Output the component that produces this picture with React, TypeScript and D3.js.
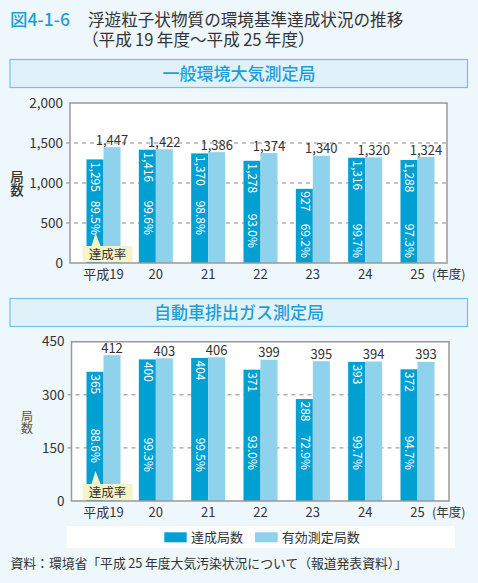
import React from "react";
import * as d3 from "d3";

const years = ["平成19", "20", "21", "22", "23", "24", "25"];
const ambientAchieved = [1295, 1416, 1370, 1278, 927, 1316, 1288];
const ambientValid = [1447, 1422, 1386, 1374, 1340, 1320, 1324];
const ambientRate = ["89.5%", "99.6%", "98.8%", "93.0%", "69.2%", "99.7%", "97.3%"];
const roadsideAchieved = [365, 400, 404, 371, 288, 393, 372];
const roadsideValid = [412, 403, 406, 399, 395, 394, 393];
const roadsideRate = ["88.6%", "99.3%", "99.5%", "93.0%", "72.9%", "99.7%", "94.7%"];
const ambientTicks = [0, 500, 1000, 1500, 2000];
const roadsideTicks = [0, 150, 300, 450];

const W = 478;
const H = 583;
const DARK = "#00a0d3";
const LIGHT = "#8ed2ec";
const BLUE = "#1d9fd6";
const TEXT = "#333";
const FONT = "'Noto Sans CJK JP', 'Noto Sans', sans-serif";
const TS = "\u2009";

const fmt = d3.format(",");

type PanelProps = {
  left: number;
  right: number;
  top: number;
  bottom: number;
  max: number;
  ticks: number[];
  achieved: number[];
  valid: number[];
  rate: string[];
  pctGaps: number[];
  ylabX: number;
  ylabY: number;
  ylabSize: number;
  ylabWeight: number;
  ylabColor: string;
  ylabSpacing: number;
};

function Panel(p: PanelProps) {
  const y = d3.scaleLinear().domain([0, p.max]).range([p.bottom, p.top]);
  const x = d3.scalePoint<string>().domain(years).range([103.5, 417.5]);
  const bw = 17;
  return (
    <g>
      <rect x={p.left} y={p.top} width={p.right - p.left} height={p.bottom - p.top} fill="#fff" />
      {p.ticks.slice(1, -1).map((t) => (
        <line
          key={"g" + t}
          x1={p.left - 4}
          x2={p.right}
          y1={y(t)}
          y2={y(t)}
          stroke="#888"
          strokeWidth={1}
          strokeDasharray="4,4"
        />
      ))}
      {p.ticks.map((t) => (
        <text
          key={"t" + t}
          x={p.left - 7}
          y={y(t)}
          dy="0.35em"
          textAnchor="end"
          fontSize={13.5}
          fill={TEXT}
        >
          {fmt(t)}
        </text>
      ))}
      {years.map((yr, i) => {
        const cx = x(yr) as number;
        const a = p.achieved[i];
        const v = p.valid[i];
        return (
          <g key={yr}>
            <rect x={cx - bw} y={y(a)} width={bw} height={p.bottom - y(a)} fill={DARK} />
            <rect x={cx} y={y(v)} width={bw} height={p.bottom - y(v)} fill={LIGHT} />
            <text x={cx + bw / 2} y={y(v) - 2.5} textAnchor="middle" fontSize={13} fill={TEXT}>
              {fmt(v)}
            </text>
            <text
              transform={`translate(${cx - bw / 2 + 0.5},${y(a) + 2.5}) rotate(90)`}
              dy="0.35em"
              textAnchor="start"
              fontSize={12}
              fill="#fff"
            >
              {fmt(a)}
            </text>
            <text
              transform={`translate(${cx - bw / 2 + 0.5},${p.bottom - p.pctGaps[i]}) rotate(90)`}
              dy="0.35em"
              textAnchor="end"
              fontSize={12}
              fill="#fff"
            >
              {p.rate[i]}
            </text>
            <text x={cx} y={p.bottom + 15.5} textAnchor="middle" fontSize={13} fill={TEXT}>
              {yr}
            </text>
          </g>
        );
      })}
      {(() => {
        const cx = (x(years[0]) as number) - bw / 2 + 0.5;
        const by = p.bottom - 17;
        return (
          <g>
            <path d={`M${cx - 4},${by} L${cx},${by - 13} L${cx + 5},${by} Z`} fill="#f6f3c8" />
            <rect x={82.5} y={by} width={50} height={16} fill="#f6f3c8" />
            <text x={107.5} y={by + 8} dy="0.36em" textAnchor="middle" fontSize={12.5} fill={TEXT}>
              達成率
            </text>
          </g>
        );
      })()}
      <path
        d={`M${p.left},${p.bottom} V${p.top} H${p.right} V${p.bottom} Z`}
        fill="none"
        stroke="#999"
        strokeWidth={1.5}
      />
      <text x={432} y={p.bottom + 15.5} fontSize={12.5} fill={TEXT}>
        (年度)
      </text>
      <text
        x={p.ylabX}
        y={p.ylabY}
        textAnchor="middle"
        fontSize={p.ylabSize}
        fontWeight={p.ylabWeight}
        fill={p.ylabColor}
        style={{ writingMode: "vertical-rl", letterSpacing: p.ylabSpacing - p.ylabSize }}
      >
        局数
      </text>
    </g>
  );
}

function Header({ y, text }: { y: number; text: string }) {
  return (
    <g>
      <rect x={10} y={y} width={457.5} height={28} fill="#e1f1fa" stroke="#6ec4e6" strokeWidth={1.2} />
      <text x={239} y={y + 14} dy="0.36em" textAnchor="middle" fontSize={17} fontWeight={500} fill={BLUE}>
        {text}
      </text>
    </g>
  );
}

export default function App() {
  return (
    <div style={{ position: "absolute", left: 0, top: 0 }}>
      <svg width={W} height={H} style={{ display: "block", fontFamily: FONT }}>
        <rect x={0} y={0} width={W} height={H} fill="#eef7fc" />
        <text x={10} y={25.5} fontSize={17.5} fontWeight={500} fill={BLUE}>
          図4-1-6
        </text>
        <text fontSize={16.6} fill={TEXT}>
          <tspan x={88} y={25.5}>浮遊粒子状物質の環境基準達成状況の推移</tspan>
          <tspan x={82} y={46}>{`（平成${TS}19${TS}年度～平成${TS}25${TS}年度）`}</tspan>
        </text>
        <Header y={59.5} text="一般環境大気測定局" />
        <Panel
          left={70}
          right={447}
          top={103}
          bottom={263}
          max={2000}
          ticks={ambientTicks}
          achieved={ambientAchieved}
          valid={ambientValid}
          rate={ambientRate}
          pctGaps={[28, 28, 28, 15, 5, 5, 5]}
          ylabX={17}
          ylabY={183.5}
          ylabSize={13.5}
          ylabWeight={500}
          ylabColor={TEXT}
          ylabSpacing={13.5}
        />
        <Header y={298.5} text="自動車排出ガス測定局" />
        <Panel
          left={71.5}
          right={449}
          top={341.7}
          bottom={501}
          max={450}
          ticks={roadsideTicks}
          achieved={roadsideAchieved}
          valid={roadsideValid}
          rate={roadsideRate}
          pctGaps={[38, 29, 29, 31, 31, 31, 31]}
          ylabX={27}
          ylabY={422}
          ylabSize={12}
          ylabWeight={400}
          ylabColor="#555"
          ylabSpacing={12}
        />
        <rect x={66.5} y={526} width={388.5} height={22} fill="#fff" />
        <rect x={164.3} y={532.3} width={22.4} height={10} fill={DARK} />
        <text x={191} y={537.3} dy="0.36em" fontSize={13} fill={TEXT}>
          達成局数
        </text>
        <rect x={255} y={532.3} width={22.7} height={10} fill={LIGHT} />
        <text x={281.7} y={537.3} dy="0.36em" fontSize={13} fill={TEXT}>
          有効測定局数
        </text>
        <text x={10.5} y={568} fontSize={12.8} fill={TEXT}>
          {`資料：環境省「平成${TS}25${TS}年度大気汚染状況について（報道発表資料）」`}
        </text>
      </svg>
    </div>
  );
}
